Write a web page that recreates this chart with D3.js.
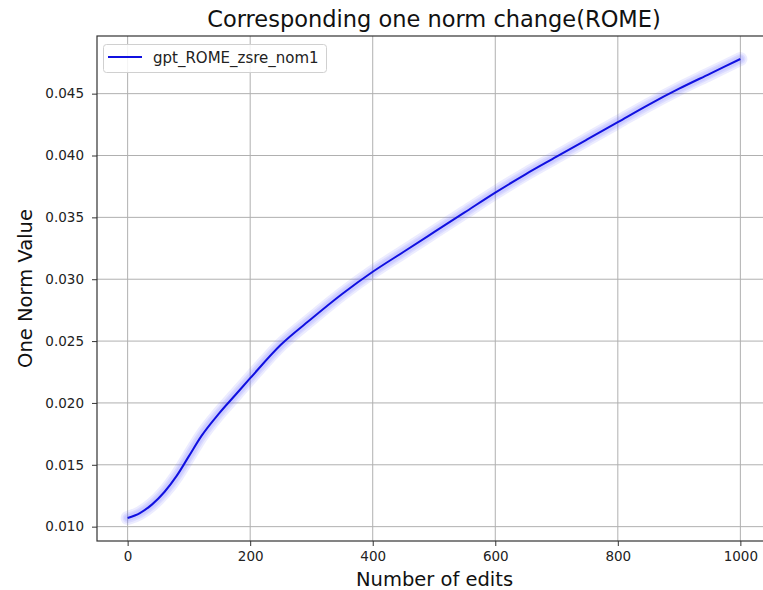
<!DOCTYPE html>
<html><head><meta charset="utf-8">
<script src="https://cdn.jsdelivr.net/npm/d3@7/dist/d3.min.js"></script>
<style>body{margin:0;background:#fff;overflow:hidden}svg{display:block;font-family:"DejaVu Sans",sans-serif}</style>
</head><body><svg id="c" width="763" height="590"></svg>
<script>
const edits = [0,20,40,60,80,100,120,150,175,200,250,300,350,400,450,500,550,600,650,700,750,800,850,900,950,1000];
const normValues = [0.0107,0.0111,0.0118,0.0128,0.0141,0.0157,0.0173,0.0192,0.0206,0.0220,0.0247,0.0268,0.0288,0.0306,0.0322,0.0338,0.0354,0.0370,0.0385,0.0399,0.0413,0.0427,0.0441,0.0454,0.0466,0.0478];
const xTicks = [0,200,400,600,800,1000];
const yTicks = [0.010,0.015,0.020,0.025,0.030,0.035,0.040,0.045];
const seriesName = "gpt_ROME_zsre_nom1";

const svg = d3.select("#c");
const L=97, R=771, T=36, B=541;
const x = d3.scaleLinear().domain([-50,1050]).range([L,R]);
const y = d3.scaleLinear().domain([0.00884,0.04966]).range([B,T]);

// grid
svg.append("g").selectAll("line").data(xTicks).join("line")
  .attr("x1",d=>x(d)).attr("x2",d=>x(d)).attr("y1",T).attr("y2",B)
  .attr("stroke","#b0b0b0").attr("stroke-width",1);
svg.append("g").selectAll("line").data(yTicks).join("line")
  .attr("y1",d=>y(d)).attr("y2",d=>y(d)).attr("x1",L).attr("x2",R)
  .attr("stroke","#b0b0b0").attr("stroke-width",1);

const data = edits.map((e,i)=>[e,normValues[i]]);
const line = d3.line().x(d=>x(d[0])).y(d=>y(d[1])).curve(d3.curveMonotoneX);
// glow
[14,10,7].forEach(w=>{
  svg.append("path").datum(data).attr("d",line).attr("fill","none")
    .attr("stroke","#6a6aff").attr("stroke-opacity",0.13).attr("stroke-width",w)
    .attr("stroke-linecap","round").attr("stroke-linejoin","round");
});
svg.append("path").datum(data).attr("d",line).attr("fill","none")
  .attr("stroke","#1010e0").attr("stroke-width",2);

// axes
const xa = svg.append("g").attr("transform",`translate(0,${B})`)
  .call(d3.axisBottom(x).tickValues(xTicks).tickSize(5).tickPadding(5).tickFormat(d3.format("d")));
const ya = svg.append("g").attr("transform",`translate(${L},0)`)
  .call(d3.axisLeft(y).tickValues(yTicks).tickSize(5).tickPadding(8).tickFormat(d3.format(".3f")));
[xa,ya].forEach(a=>{
  a.select(".domain").remove();
  a.selectAll("text").attr("font-size",13.5).attr("fill","#222").attr("font-family","DejaVu Sans");
  a.selectAll("line").attr("stroke","#333");
});
// spines
svg.append("rect").attr("x",L).attr("y",T).attr("width",R-L).attr("height",B-T)
  .attr("fill","none").attr("stroke","#333").attr("stroke-width",1.2);

// title & labels
svg.append("text").attr("x",434).attr("y",27).attr("text-anchor","middle")
  .attr("font-size",22.5).attr("fill","#111").text("Corresponding one norm change(ROME)");
svg.append("text").attr("x",434.5).attr("y",586).attr("text-anchor","middle")
  .attr("font-size",19.5).attr("fill","#111").text("Number of edits");
svg.append("text").attr("transform",`translate(32,${(T+B)/2}) rotate(-90)`).attr("text-anchor","middle")
  .attr("font-size",19.5).attr("fill","#111").text("One Norm Value");

// legend
const lg = svg.append("g");
lg.append("rect").attr("x",103.5).attr("y",44.5).attr("width",223).attr("height",28).attr("rx",3)
  .attr("fill","#fff").attr("fill-opacity",0.85).attr("stroke","#d0d0d0");
lg.append("line").attr("x1",108).attr("x2",142).attr("y1",57).attr("y2",57).attr("stroke","#1010e0").attr("stroke-width",2);
lg.append("text").attr("x",153).attr("y",63).attr("font-size",15).attr("fill","#222").text(seriesName);
</script></body></html>
